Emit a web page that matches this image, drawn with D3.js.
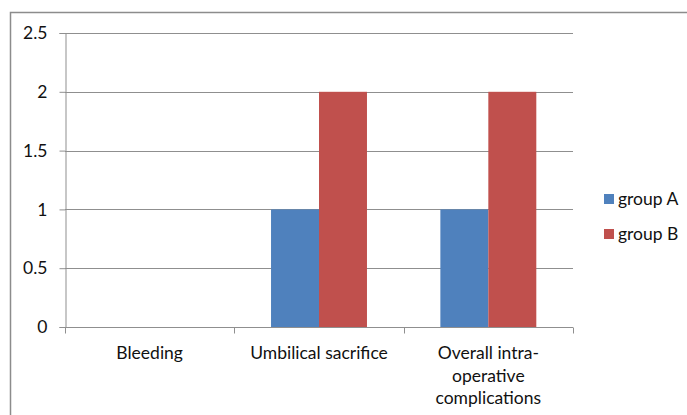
<!DOCTYPE html>
<html>
<head>
<meta charset="utf-8">
<script src="https://cdn.jsdelivr.net/npm/d3@7"></script>
<style>
  html, body { margin: 0; padding: 0; background: #fff; }
  svg { display: block; }
  text { font-family: Lato, "Open Sans", sans-serif; fill: #111; }
</style>
</head>
<body>
<svg id="chart" width="687" height="415"></svg>
<script>
// Complication counts per group
const categories = [["Bleeding"], ["Umbilical sacrifice"], ["Overall intra-", "operative", "complications"]];
const seriesNames = ["group A", "group B"];
const groupA = [0, 1, 1];
const groupB = [0, 2, 2];
const yTicks = [0, 0.5, 1, 1.5, 2, 2.5];
const colors = ["#4f81bd", "#c0504d"];

const svg = d3.select("#chart");
const W = 687, H = 415;
const FS = "17.5px";

// Outer frame
svg.append("rect")
  .attr("x", 10.5).attr("y", 12.5)
  .attr("width", W + 10).attr("height", H + 10)
  .attr("fill", "#fff").attr("stroke", "#8c8c8c").attr("stroke-width", 1.5);

const plot = { left: 65, right: 573, top: 33, bottom: 327 };

const x = d3.scaleBand()
  .domain(d3.range(categories.length))
  .range([plot.left, plot.right])
  .paddingInner(0).paddingOuter(0);

const inner = d3.scaleBand()
  .domain(d3.range(seriesNames.length))
  .range([0, x.bandwidth()])
  .paddingOuter(0.765).paddingInner(0);

const y = d3.scaleLinear().domain([0, 2.5]).range([plot.bottom, plot.top]);

// Gridlines
svg.append("g")
  .selectAll("line")
  .data(yTicks.filter(t => t > 0))
  .join("line")
  .attr("x1", plot.left).attr("x2", plot.right)
  .attr("y1", d => Math.round(y(d)) + 0.5).attr("y2", d => Math.round(y(d)) + 0.5)
  .attr("stroke", "#8f8f8f").attr("stroke-width", 1);

// Bars
const rows = categories.map((c, i) => [groupA[i], groupB[i]]);
const grp = svg.append("g").selectAll("g")
  .data(rows)
  .join("g")
  .attr("transform", (d, i) => `translate(${x(i)},0)`);
grp.selectAll("rect")
  .data(d => d.map((v, s) => ({ v, s })))
  .join("rect")
  .attr("x", d => inner(d.s))
  .attr("width", inner.bandwidth())
  .attr("y", d => y(d.v))
  .attr("height", d => y(0) - y(d.v))
  .attr("fill", d => colors[d.s]);

// Y axis
const yAxis = svg.append("g")
  .attr("transform", `translate(${plot.left + 0.5},0)`)
  .call(d3.axisLeft(y).tickValues(yTicks).tickSize(6).tickPadding(12).tickFormat(d3.format("")));
yAxis.select(".domain").attr("stroke", "#8f8f8f");
yAxis.selectAll(".tick line").attr("stroke", "#8f8f8f");
yAxis.selectAll(".tick text").style("font-size", FS).attr("fill", "#111");

// X axis line and category separators
const xAxisG = svg.append("g").attr("transform", `translate(0,${Math.round(plot.bottom) + 0.5})`);
xAxisG.append("line")
  .attr("x1", plot.left).attr("x2", plot.right)
  .attr("stroke", "#8f8f8f");
xAxisG.selectAll("line.sep")
  .data(d3.range(categories.length + 1))
  .join("line")
  .attr("class", "sep")
  .attr("x1", i => Math.round(plot.left + i * x.step()) + 0.5)
  .attr("x2", i => Math.round(plot.left + i * x.step()) + 0.5)
  .attr("y1", 0).attr("y2", 6)
  .attr("stroke", "#8f8f8f");

// Category labels
const lbl = svg.append("g").selectAll("text")
  .data(categories)
  .join("text")
  .attr("x", (d, i) => x(i) + x.bandwidth() / 2)
  .attr("y", 359)
  .attr("text-anchor", "middle")
  .style("font-size", FS);
lbl.selectAll("tspan")
  .data(d => d)
  .join("tspan")
  .attr("x", function() { return this.parentNode.getAttribute("x"); })
  .attr("dy", (d, i) => i === 0 ? 0 : 22.5)
  .text(d => d);

// Legend
const legend = svg.append("g").selectAll("g")
  .data(seriesNames)
  .join("g")
  .attr("transform", (d, i) => `translate(604,${194 + i * 35})`);
legend.append("rect")
  .attr("width", 10).attr("height", 10)
  .attr("fill", (d, i) => colors[i]);
legend.append("text")
  .attr("x", 14).attr("y", 11)
  .style("font-size", FS)
  .text(d => d);
</script>
</body>
</html>
